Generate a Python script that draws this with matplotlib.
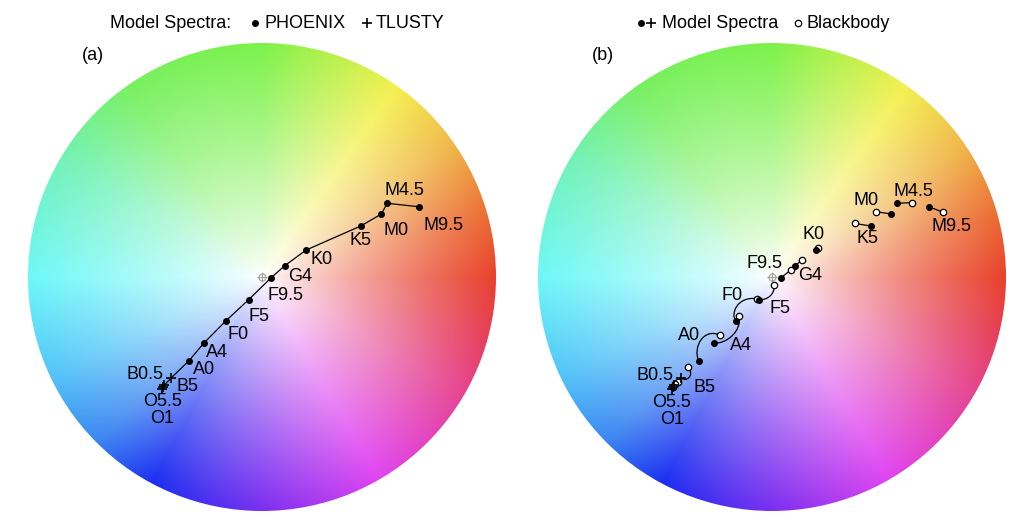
import numpy as np
import matplotlib.pyplot as plt
from matplotlib.patches import Circle, PathPatch
from matplotlib.path import Path

plt.rcParams['font.family'] = ['Liberation Sans', 'DejaVu Sans']

# spectral classes, cool -> hot
classes = ['M9.5', 'M4.5', 'M0', 'K5', 'K0', 'G4', 'F9.5', 'F5', 'F0', 'A4', 'A0',
           'B5', 'B0.5', 'O5.5', 'O1']
is_tlusty = [False] * 11 + [True] * 4

# model spectra positions (unit = wheel radius, origin = white point)
model_x = [0.672, 0.535, 0.510, 0.422, 0.188, 0.097, 0.038, -0.057, -0.155, -0.249, -0.313,
           -0.389, -0.418, -0.424, -0.427]
model_y = [0.300, 0.315, 0.269, 0.218, 0.115, 0.048, -0.004, -0.097, -0.188, -0.283, -0.359,
           -0.432, -0.463, -0.471, -0.479]

# blackbody positions for the same classes
bb_x = [0.732, 0.600, 0.446, 0.353, 0.195, 0.128, 0.080, 0.009, -0.062, -0.141, -0.222,
        -0.358, -0.400, -0.415, -0.424]
bb_y = [0.276, 0.318, 0.279, 0.229, 0.125, 0.071, 0.030, -0.034, -0.093, -0.167, -0.249,
        -0.383, -0.447, -0.457, -0.469]

# bezier handles of the blackbody -> model transition paths (None = straight)
path_c1 = {'F5': (0.013, -0.077), 'F0': (-0.150, -0.080), 'A4': (-0.128, -0.232),
           'A0': (-0.292, -0.215), 'B5': (-0.330, -0.422)}
path_c2 = {'F5': (-0.023, -0.100), 'F0': (-0.178, -0.158), 'A4': (-0.194, -0.286),
           'A0': (-0.340, -0.300), 'B5': (-0.365, -0.450)}

# hue wheel anchors (angle in degrees, colour)
hue_deg = [0, 15, 35, 55, 90, 125, 150, 180, 205, 225, 242, 270, 300, 330, 345, 360]
hue_col = ['#e8402a', '#eb6a32', '#f0b848', '#f4f050', '#7cf24a', '#78f060', '#72f2b8',
           '#6ef8f8', '#52c4f8', '#3a84f2', '#1a2ef0', '#7a2ef0', '#e044f0', '#e64490',
           '#e63e5a', '#e8402a']

# label offsets in pixels (layout)
off_a = [(24, -19), (17, 13), (15, -16), (0, -15), (16, -9), (15, -11), (15, -18), (10, -17),
         (12, -14), (13, -9), (15, -8), (17, -8), (-19, 11), (0, -14), (0, -29)]
off_b = [(22, -20), (16, 12), (-25, 14), (-3, -13), (-2, 16), (15, -10), (-16, 14), (21, -9),
         (-4, 25), (27, -2), (-10, 26), (24, -9), (-19, 10), (-1, -15), (0, -30)]

W, H = 1023, 526
R_PX = 234
FS = 13
DOT = dict(color='black', ms=4, ls='none', marker='o')
PLUS = dict(color='black', ms=6.5, mew=1.2, ls='none', marker='+')
RING = dict(ms=4.6, mfc='white', mec='black', mew=0.9, ls='none', marker='o')
fig = plt.figure(figsize=(W / 100, H / 100), dpi=100)


def wheel_axes(cx, cy):
    lim = 1.1
    size = 2 * lim * R_PX
    ax = fig.add_axes([(cx - size / 2) / W, (H - cy - size / 2) / H, size / W, size / H])
    ax.set_xlim(-lim, lim)
    ax.set_ylim(-lim, lim)
    ax.set_aspect('equal')
    ax.axis('off')
    ax.patch.set_alpha(0)

    n = 700
    g = np.linspace(-1, 1, n)
    X, Y = np.meshgrid(g, g)
    r = np.clip(np.hypot(X, Y), 0, 1)
    ang = np.degrees(np.arctan2(Y, X)) % 360
    cols = np.array([plt.matplotlib.colors.to_rgb(c) for c in hue_col])
    rgb = np.stack([np.interp(ang, hue_deg, cols[:, k]) for k in range(3)], axis=-1)
    s = r ** 0.85
    img = 1 - s[..., None] * (1 - rgb)
    im = ax.imshow(img, extent=(-1, 1, -1, 1), origin='lower', interpolation='bilinear')
    im.set_clip_path(Circle((0, 0), 1, transform=ax.transData))
    # white point
    ax.plot(0, 0, marker='o', ms=5, mfc='none', mec='#a0a0a0', mew=0.8)
    ax.plot(0, 0, marker='+', ms=7, mec='#a0a0a0', mew=0.8)
    return ax


mx = np.array(model_x)
my = np.array(model_y)
ph = ~np.array(is_tlusty)
tl = np.array(is_tlusty)

# (a)
ax1 = wheel_axes(262, 277)
ax1.plot(mx, my, color='black', lw=0.9)
ax1.plot(mx[ph], my[ph], **DOT)
ax1.plot(mx[tl], my[tl], **PLUS)
for i, c in enumerate(classes):
    ax1.annotate(c, (mx[i], my[i]), xytext=off_a[i], textcoords='offset pixels',
                 ha='center', va='center', fontsize=FS)

# (b)
ax2 = wheel_axes(772, 277)
for i, c in enumerate(classes):
    p0 = (bb_x[i], bb_y[i])
    p3 = (mx[i], my[i])
    if c in path_c1:
        pth = Path([p0, path_c1[c], path_c2[c], p3],
                   [Path.MOVETO, Path.CURVE4, Path.CURVE4, Path.CURVE4])
    else:
        pth = Path([p0, p3], [Path.MOVETO, Path.LINETO])
    ax2.add_patch(PathPatch(pth, fill=False, edgecolor='black', lw=0.9))
ax2.plot(bb_x, bb_y, **RING)
ax2.plot(mx[ph], my[ph], **DOT)
ax2.plot(mx[tl], my[tl], **PLUS)
for i, c in enumerate(classes):
    ax2.annotate(c, (mx[i], my[i]), xytext=off_b[i], textcoords='offset pixels',
                 ha='center', va='center', fontsize=FS)

# header legends and panel tags
ov = fig.add_axes([0, 0, 1, 1])
ov.set_xlim(0, W)
ov.set_ylim(H, 0)
ov.axis('off')
ov.patch.set_alpha(0)
ty = 23
ov.text(110, ty, 'Model Spectra:', fontsize=FS, va='center')
ov.plot(255, ty, **DOT)
ov.text(264, ty, 'PHOENIX', fontsize=FS, va='center')
ov.plot(367, ty, **PLUS)
ov.text(376, ty, 'TLUSTY', fontsize=FS, va='center')

ov.plot(641, ty, **DOT)
ov.plot(651, ty, **PLUS)
ov.text(662, ty, 'Model Spectra', fontsize=FS, va='center')
ov.plot(798, ty, **RING)
ov.text(806, ty, 'Blackbody', fontsize=FS, va='center')

ov.text(93, 56, '(a)', fontsize=FS, ha='center', va='center')
ov.text(603, 56, '(b)', fontsize=FS, ha='center', va='center')

fig.savefig('out.png', dpi=100)
